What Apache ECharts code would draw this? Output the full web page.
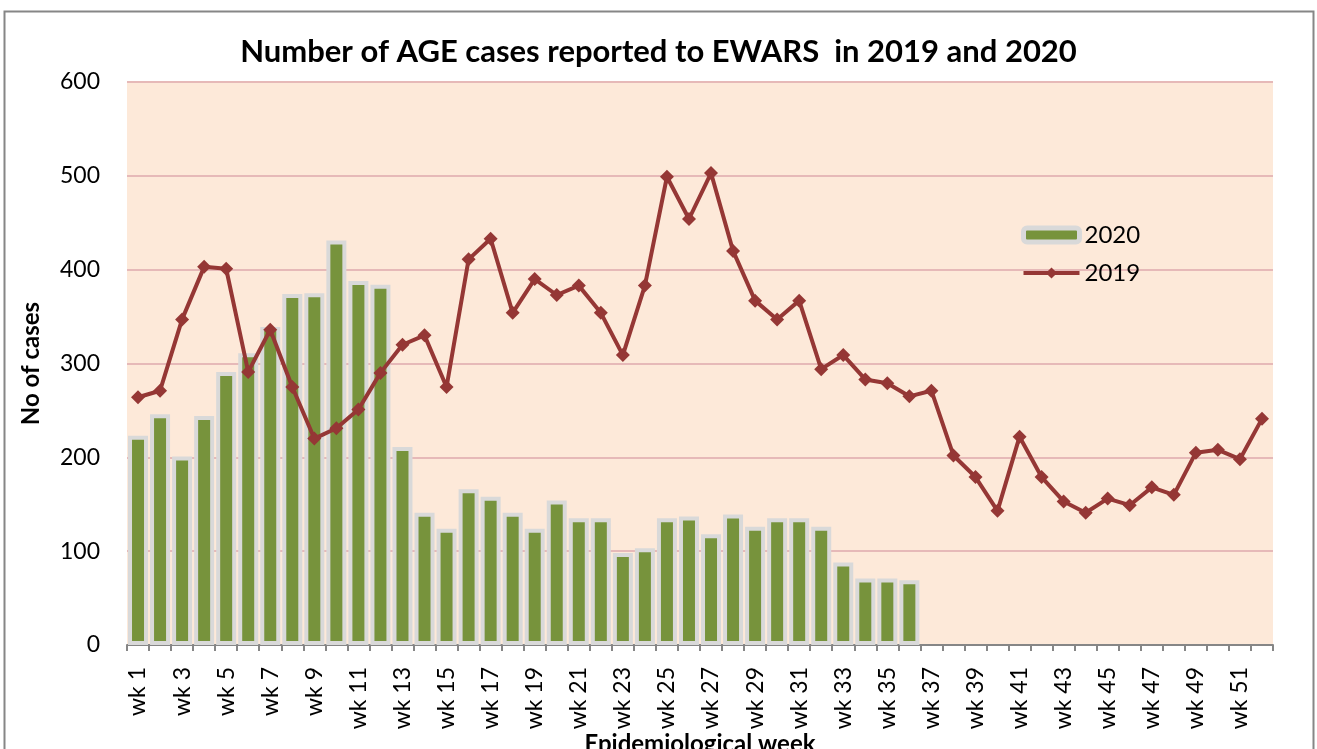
<!DOCTYPE html>
<html>
<head>
<meta charset="utf-8">
<script src="https://cdn.jsdelivr.net/npm/echarts@6/dist/echarts.min.js"></script>
<style>
  html, body { margin: 0; padding: 0; background: #fff; }
  #main { width: 1317px; height: 749px; }
</style>
</head>
<body>
<div id="main"></div>
<script>
// weeks 1..52
var weeks = [];
for (var i = 1; i <= 52; i++) weeks.push('wk ' + i);

// 2020 cases (weeks 1-36 reported)
var cases2020 = [223, 246, 201, 244, 291, 311, 339, 374, 375, 431, 388, 384, 211,
                 141, 124, 166, 158, 141, 124, 154, 135, 135, 98, 103, 135, 137,
                 118, 139, 126, 135, 135, 126, 88, 71, 71, 69];

// 2019 cases
var cases2019 = [264, 271, 347, 403, 401, 291, 336, 275, 220, 231, 251, 290, 320,
                 330, 275, 411, 433, 354, 390, 373, 383, 354, 309, 383, 499, 454,
                 503, 420, 367, 347, 367, 294, 309, 283, 279, 265, 271, 202, 179,
                 143, 222, 179, 153, 141, 156, 149, 168, 160, 205, 208, 198, 241];

var yTicks = [0, 100, 200, 300, 400, 500, 600];

var font = 'Lato';
var myChart = echarts.init(document.getElementById('main'));
var option = {
    backgroundColor: '#fff',
    animation: false,
    title: {
        text: 'Number of AGE cases reported to EWARS  in 2019 and 2020',
        left: 'center',
        top: 31,
        textStyle: { fontFamily: font, fontSize: 31, fontWeight: 'bold', color: '#000' }
    },
    legend: {
        orient: 'vertical',
        left: 1016,
        top: 218,
        itemGap: 14,
        itemWidth: 56,
        itemHeight: 14,
        textStyle: { fontFamily: font, fontSize: 24, color: '#000' },
        data: [
            { name: '2020', icon: 'roundRect',
              itemStyle: { color: '#77933C', borderColor: '#D9D9D9', borderWidth: 5 } },
            { name: '2019', lineStyle: { width: 4, color: '#953735' } }
        ]
    },
    grid: {
        left: 127, right: 44, top: 82, bottom: 104,
        outerBoundsMode: 'none',
        containLabel: false,
        show: true,
        backgroundColor: '#FDE9D9',
        borderWidth: 0
    },
    xAxis: {
        type: 'category',
        data: weeks,
        axisLine: { lineStyle: { color: '#868686', width: 2 } },
        axisTick: { show: true, length: 6, interval: 0, lineStyle: { color: '#868686', width: 2 } },
        axisLabel: {
            interval: 1,
            rotate: 90,
            margin: 22,
            fontFamily: font,
            fontSize: 23,
            color: '#000'
        }
    },
    yAxis: {
        type: 'value',
        min: yTicks[0],
        max: yTicks[yTicks.length - 1],
        interval: 100,
        name: 'No of cases',
        nameLocation: 'middle',
        nameGap: 84,
        nameRotate: 90,
        nameTextStyle: { fontFamily: font, fontSize: 24, fontWeight: 'bold', color: '#000' },
        axisLine: { show: false },
        axisTick: { show: false },
        axisLabel: { margin: 27, fontFamily: font, fontSize: 23, color: '#000' },
        splitLine: { lineStyle: { color: '#E6B9B8', width: 2 } }
    },
    series: [
        {
            name: '2020',
            type: 'bar',
            data: cases2020,
            barWidth: 20,
            itemStyle: { color: '#77933C', borderColor: '#D9D9D9', borderWidth: 4 },
            z: 2
        },
        {
            name: '2019',
            type: 'line',
            data: cases2019,
            symbol: 'diamond',
            symbolSize: 14,
            lineStyle: { color: '#953735', width: 4 },
            itemStyle: { color: '#953735' },
            z: 3
        }
    ],
    graphic: [
        {
            type: 'rect',
            shape: { x: 4.5, y: 11.5, width: 1309, height: 760 },
            style: { fill: null, stroke: '#868686', lineWidth: 2 },
            silent: true
        },
        {
            // x axis title, sits under the rotated week labels
            type: 'text',
            x: 700,
            y: 744,
            style: {
                text: 'Epidemiological week',
                align: 'center',
                verticalAlign: 'middle',
                font: 'bold 24px Lato',
                fill: '#000'
            },
            silent: true
        }
    ]
};
myChart.setOption(option);
</script>
</body>
</html>
